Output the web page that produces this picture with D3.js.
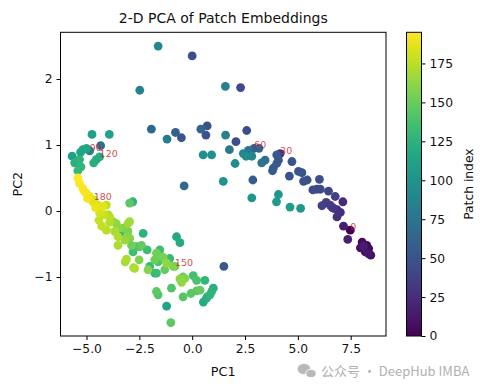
<!DOCTYPE html>
<html><head><meta charset="utf-8">
<script src="https://cdn.jsdelivr.net/npm/d3@7"></script>
<style>body{margin:0;background:#fff;} svg{display:block;font-family:"DejaVu Sans",sans-serif;}</style>
</head><body>
<svg id="c" width="486" height="390"></svg>
<script>
// PCA coordinates (PC1, PC2) and patch index of each point
const pc1 = [
 7.48,7.16,7.36,8.04,7.96,8.26,8.35,8.19,8.45,8.35,8.10,
 7.13,6.85,7.01,6.85,6.69,6.61,6.53,6.34,6.14,6.77,6.45,6.06,5.90,5.71,6.02,5.44,5.27,5.19,4.60,4.72,4.16,4.08,4.00,3.84,3.80,4.00,5.03,
 2.87,2.58,2.07,2.29,0.00,0.71,0.65,0.41,-0.51,-0.79,-1.93,-1.19,-0.38,1.50,2.93,3.16,
 -1.61,-2.48,1.57,1.58,1.76,0.52,0.92,1.47,2.03,2.42,2.66,2.82,2.55,3.29,3.45,2.82,4.08,3.99,4.63,5.13,
 -4.85,-4.74,-3.92,-5.17,-5.00,-4.33,-4.38,-4.54,-4.66,-5.56,-5.33,-5.26,-5.41,-5.68,-5.28,
 -5.41,-5.33,-5.17,-5.01,-4.85,-4.66,-4.70,-4.46,-4.06,-4.38,-3.98,-4.41,-3.75,-4.06,-3.51,-3.27,-2.96,-2.96,-2.81,-3.51,
 -3.04,-2.96,-3.51,-2.87,-2.64,-2.32,-2.40,-2.80,-2.13,-3.11,-3.17,-2.51,-2.77,-2.01,-2.09,-1.69,-1.53,-1.77,-1.61,-1.38,
 -1.06,-1.30,-1.69,-0.82,-0.74,-0.58,-0.58,-0.43,-0.50,0.05,0.21,0.60,-0.98,-1.69,-1.61,-0.43,-0.06,0.21,0.37,1.00,
 0.92,0.84,0.68,0.53,-1.21,-1.01,
 -3.90,-3.59,-3.67,-3.43,-3.19,-3.04,-3.19,-3.04,-2.48,-2.72,-1.21,-0.90,-1.77,-0.35,0.71,
 -4.22,-4.14,-3.90,-4.28,-4.95,-5.09,-4.57
];
const pc2 = [
 -0.29,-0.23,-0.43,-0.47,-0.56,-0.52,-0.57,-0.62,-0.67,-0.65,-0.53,
 0.14,-0.09,-0.02,0.02,0.04,0.06,0.09,0.13,0.08,0.22,0.30,0.33,0.33,0.32,0.48,0.47,0.45,0.58,0.53,0.75,0.87,0.77,0.72,0.65,0.61,0.85,0.60,
 0.47,1.22,1.05,1.87,2.35,1.29,1.15,1.24,1.11,1.19,1.24,1.09,0.38,-0.84,0.95,0.95,
 2.50,1.83,1.89,1.15,0.93,0.85,0.85,0.45,0.72,0.87,0.92,0.83,0.83,0.73,0.77,0.20,0.25,0.14,0.06,0.04,
 0.91,1.16,1.16,0.93,0.95,0.99,0.82,0.78,0.73,0.73,0.78,0.67,0.61,0.83,0.89,
 0.50,0.42,0.34,0.27,0.22,0.17,0.14,0.09,0.09,-0.03,-0.06,-0.14,-0.16,-0.29,-0.26,-0.26,-0.16,0.12,0.14,-0.39,
 -0.31,-0.41,-0.52,-0.52,-0.54,-0.34,-0.52,-0.62,-0.59,-0.73,-0.77,-0.74,-0.86,-0.84,-0.89,-0.64,-0.59,-0.74,-0.77,-0.70,
 -0.72,-0.89,-0.94,-0.84,-0.39,-0.48,-1.03,-1.00,-1.08,-0.98,-1.05,-1.05,-1.17,-1.22,-1.27,-1.30,-1.25,-1.21,-1.20,-1.17,
 -1.22,-1.27,-1.32,-1.38,-1.44,-1.69,
 -0.09,-0.19,-0.31,-0.34,-0.26,-0.19,-0.44,-0.39,-0.54,-0.87,-0.79,-0.84,-0.94,-1.02,-1.30,
 0.07,-0.06,-0.17,-0.23,0.19,0.29,0.05
];
const patchIdx = [
 0,16,18,4,8,2,6,10,9,12,14,
 22,26,24,27,29,31,33,35,37,38,40,42,43,44,46,47,48,49,50,52,30,53,54,55,56,54,52,
 55,45,47,44,46,48,50,62,52,58,64,80,66,53,60,61,
 92,86,82,84,78,96,98,100,94,88,76,91,93,74,72,102,104,106,108,103,
 90,110,112,114,116,70,120,118,122,124,126,128,130,111,115,
 195,194,192,190,188,180,186,184,176,182,166,178,160,174,162,158,168,146,127,172,
 156,154,170,152,138,125,148,136,134,171,169,157,164,132,159,153,135,151,140,155,
 131,149,133,150,117,119,161,147,163,137,139,129,141,145,143,142,144,146,148,123,
 125,127,121,119,113,147,
 175,163,170,128,145,167,165,160,142,172,163,158,131,159,124,
 187,179,173,177,191,193,189
];
const labelIdx = [0, 30, 60, 90, 120, 150, 180];
const xTicks = [-5, -2.5, 0, 2.5, 5, 7.5];
const yTicks = [-1, 0, 1, 2];
const cbTicks = [0, 25, 50, 75, 100, 125, 150, 175];
const idxMin = 0, idxMax = 195;

const svg = d3.select("#c");
const L = 60.5, R = 386, T = 32.3, B = 336;
const x = d3.scaleLinear().domain([-6.23, 9.17]).range([L, R]);
const y = d3.scaleLinear().domain([-1.894, 2.708]).range([B, T]);
const color = d3.scaleSequential(d3.interpolateViridis).domain([idxMin, idxMax]);

const pts = pc1.map((v, i) => ({x: v, y: pc2[i], idx: patchIdx[i]}))
  .sort((a, b) => a.idx - b.idx);

// points
svg.append("g").selectAll("circle").data(pts).join("circle")
  .attr("cx", d => x(d.x)).attr("cy", d => y(d.y)).attr("r", 4.4)
  .attr("fill", d => color(d.idx));

// labels
svg.append("g").selectAll("text").data(labelIdx).join("text")
  .attr("x", d => x(pts.find(p => p.idx === d).x))
  .attr("y", d => y(pts.find(p => p.idx === d).y))
  .attr("font-size", 9.5).attr("fill", "#c8282e").attr("fill-opacity", 0.85)
  .text(d => d);

// frame
svg.append("rect").attr("x", L).attr("y", T).attr("width", R - L).attr("height", B - T)
  .attr("fill", "none").attr("stroke", "#000").attr("stroke-width", 1);

const fmtX = d3.format(".1f");
const gx = svg.append("g").attr("transform", `translate(0,${B})`)
  .call(d3.axisBottom(x).tickValues(xTicks).tickFormat(fmtX).tickSize(4).tickPadding(4));
const gy = svg.append("g").attr("transform", `translate(${L},0)`)
  .call(d3.axisLeft(y).tickValues(yTicks).tickFormat(d3.format("d")).tickSize(4).tickPadding(4));
[gx, gy].forEach(g => {
  g.select(".domain").remove();
  g.selectAll("text").attr("font-size", 12.3).attr("fill", "#111").attr("font-family", "DejaVu Sans");
  g.selectAll("line").attr("stroke", "#000");
});

// titles
svg.append("text").attr("x", (L + R) / 2).attr("y", 23).attr("text-anchor", "middle")
  .attr("font-size", 14).attr("fill", "#111").text("2-D PCA of Patch Embeddings");
svg.append("text").attr("x", (L + R) / 2).attr("y", 376).attr("text-anchor", "middle")
  .attr("font-size", 12.8).attr("fill", "#111").text("PC1");
svg.append("text").attr("transform", `translate(22,${(T + B) / 2}) rotate(-90)`).attr("text-anchor", "middle")
  .attr("font-size", 12.8).attr("fill", "#111").text("PC2");

// colorbar
const cbL = 406.5, cbW = 15;
const defs = svg.append("defs");
const grad = defs.append("linearGradient").attr("id", "vir").attr("x1", 0).attr("y1", 1).attr("x2", 0).attr("y2", 0);
d3.range(0, 1.0001, 0.05).forEach(t => grad.append("stop").attr("offset", t).attr("stop-color", d3.interpolateViridis(t)));
svg.append("rect").attr("x", cbL).attr("y", T).attr("width", cbW).attr("height", B - T)
  .attr("fill", "url(#vir)").attr("stroke", "#000").attr("stroke-width", 1);
const cy = d3.scaleLinear().domain([idxMin, idxMax]).range([B, T]);
const gc = svg.append("g").attr("transform", `translate(${cbL + cbW},0)`)
  .call(d3.axisRight(cy).tickValues(cbTicks).tickSize(4).tickPadding(4));
gc.select(".domain").remove();
gc.selectAll("text").attr("font-size", 12.3).attr("fill", "#111").attr("font-family", "DejaVu Sans");
gc.selectAll("line").attr("stroke", "#000");
svg.append("text").attr("transform", `translate(473,${(T + B) / 2}) rotate(-90)`).attr("text-anchor", "middle")
  .attr("font-size", 12.3).attr("fill", "#111").text("Patch index");

// watermark
const wm = svg.append("g").attr("fill", "#b9b9b9");
wm.append("ellipse").attr("cx", 304).attr("cy", 369).attr("rx", 6.5).attr("ry", 5.2);
wm.append("ellipse").attr("cx", 311).attr("cy", 373.5).attr("rx", 5.2).attr("ry", 4.3).attr("stroke", "#fff").attr("stroke-width", 1);
svg.append("text").attr("x", 321).attr("y", 376).attr("font-size", 13)
  .attr("font-family", "'Noto Sans CJK SC', 'Noto Sans', sans-serif").attr("fill", "#b0b0b0")
  .text("公众号 · DeepHub IMBA");
</script>
</body></html>
